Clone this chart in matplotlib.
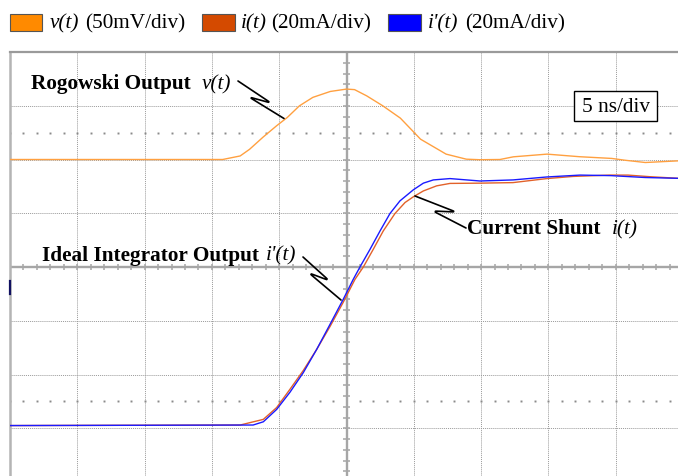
import matplotlib
matplotlib.use("Agg")
import matplotlib.pyplot as plt
from matplotlib.patches import Rectangle, PathPatch
from matplotlib.path import Path
import numpy as np

# ---------------- data ----------------
# Rogowski output v(t): time in ns, voltage in mV (50 mV/div)
time_v_ns = [-25.0, -9.2, -7.9, -7.2, -6.2, -5.2, -4.4, -3.5, -2.5, -1.2, 0.0, 0.6,
             1.5, 2.7, 4.0, 5.5, 7.4, 8.9, 9.9, 11.4, 12.4, 13.4, 14.9, 15.9, 17.3,
             19.7, 20.7, 22.2, 24.6, 25.0]
v_mV = [0.0, 0.0, 3.3, 9.5, 20.8, 31.3, 39.1, 49.9, 57.8, 63.3, 65.5, 65.0,
        59.2, 49.9, 38.5, 18.9, 5.0, 0.3, -0.2, 0.0, 2.5, 3.5, 5.0, 4.0, 2.6,
        1.0, -0.7, -2.8, -1.3, -1.3]

# Current shunt i(t): time in ns, current in mA (20 mA/div)
time_i_ns = [-25.0, -7.9, -6.18, -5.19, -4.20, -3.21, -2.22, -1.22, -0.24, 0.63, 1.25,
             1.99, 2.73, 3.60, 4.35, 4.96, 5.71, 6.70, 7.69, 9.92, 12.37, 14.88,
             16.83, 19.58, 20.91, 22.55, 24.63, 25.0]
i_mA = [0.0, 0.2, 2.3, 6.7, 13.5, 20.5, 28.3, 36.9, 45.9, 54.4, 59.0,
        65.6, 72.4, 78.9, 83.0, 85.1, 87.3, 89.2, 90.1, 90.2, 90.4, 91.9,
        92.7, 93.2, 93.2, 92.6, 92.0, 92.0]

# Ideal integrator output i'(t): time in ns, current in mA (20 mA/div)
time_ip_ns = [-25.0, -6.94, -6.18, -5.19, -4.20, -3.21, -2.22, -1.22, -0.24, 0.50, 1.00,
              1.75, 2.49, 3.23, 3.97, 4.96, 5.71, 6.45, 7.69, 9.92, 12.37, 14.88,
              17.35, 19.65, 22.18, 24.63, 25.0]
ip_mA = [0.0, 0.2, 1.4, 6.0, 12.4, 19.7, 28.3, 37.7, 47.0, 54.4, 59.0,
         65.6, 72.4, 78.9, 83.6, 87.7, 90.2, 91.4, 91.9, 91.0, 91.4, 92.5,
         93.2, 93.0, 92.3, 92.0, 92.0]

legend_names = ["v(t)", "i(t)", "i'(t)"]
legend_units = ["(50mV/div)", "(20mA/div)", "(20mA/div)"]

# ---------------- scope settings / style ----------------
NS_PER_DIV = 5.0
MV_PER_DIV = 50.0
MA_PER_DIV = 20.0
V_OFFSET_DIV = 2.0
I_OFFSET_DIV = -2.95

C_V = "#FFA040"
C_I = "#E2612A"
C_IP = "#1A1AFF"
PATCH_COLORS = ["#FF8A00", "#D44A00", "#0000FF"]
GRID_C = "#9a9a9a"
AXIS_C = "#a6a6a6"
SERIF = "Liberation Serif"
FS = 15.3

W, H = 678, 477
fig = plt.figure(figsize=(W / 100, H / 100), dpi=100)


def fx(px):
    return px / W


def fy(py):
    return 1 - py / H


# axes: graticule 10 x 8 divisions, partially clipped by the image border
left_px, top_px, right_px, bottom_px = 10, 53, 683, 483
ax = fig.add_axes([fx(left_px), fy(bottom_px), (right_px - left_px) / W,
                   (bottom_px - top_px) / H])
ax.set_xlim(-5, 5)
ax.set_ylim(-4, 4)
ax.set_xticks([])
ax.set_yticks([])
for s in ["right", "bottom"]:
    ax.spines[s].set_visible(False)
ax.spines["top"].set_color("#9a9a9a")
ax.spines["top"].set_linewidth(1.6)
ax.spines["left"].set_color("#b4b4b4")
ax.spines["left"].set_linewidth(1.8)

# dotted grid
for xg in range(-4, 5):
    if xg != 0:
        ax.axvline(xg, color=GRID_C, lw=0.7, ls=(0, (1, 1)), zorder=1)
for yg in range(-3, 4):
    if yg != 0:
        ax.axhline(yg, color=GRID_C, lw=0.7, ls=(0, (1, 1)), zorder=1)

# centre axes with minor ticks
ax.axhline(0, color=AXIS_C, lw=1.7, zorder=1.5)
ax.axvline(0, color=AXIS_C, lw=1.7, zorder=1.5)
minor = np.round(np.arange(-5, 5.001, 0.2), 3)
minor = minor[np.abs(minor) > 1e-9]
ax.vlines(minor, -0.06, 0.06, color=AXIS_C, lw=1.1, zorder=1.5)
ax.hlines(minor[np.abs(minor) < 4.01], -0.045, 0.045, color=AXIS_C, lw=1.1, zorder=1.5)
# rows of dots at +-2.5 div
for yd in (2.5, -2.5):
    ax.plot(minor, np.full(minor.shape, yd), ls="none", marker="s", ms=1.4,
            mew=0, color="#8a8a8a", zorder=1)

# small channel marker on the left edge
ax.plot([-4.995, -4.995], [-0.26, -0.5], color="#101060", lw=1.6, zorder=3,
        clip_on=False)

# traces
tv = np.array(time_v_ns) / NS_PER_DIV
ax.plot(tv, V_OFFSET_DIV + np.array(v_mV) / MV_PER_DIV, color=C_V, lw=1.0, zorder=3)
ti = np.array(time_i_ns) / NS_PER_DIV
ax.plot(ti, I_OFFSET_DIV + np.array(i_mA) / MA_PER_DIV, color=C_I, lw=1.0, zorder=3)
tip = np.array(time_ip_ns) / NS_PER_DIV
ax.plot(tip, I_OFFSET_DIV + np.array(ip_mA) / MA_PER_DIV, color=C_IP, lw=1.0, zorder=3.2)

# ---------------- legend (figure pixels) ----------------
patch_x = [9.5, 202, 388]
name_x = [50, 241, 428]
unit_x = [85.5, 271.5, 465]
for k in range(3):
    fig.add_artist(Rectangle((fx(patch_x[k]), fy(31.7)), 33 / W, 16.7 / H,
                             transform=fig.transFigure, facecolor=PATCH_COLORS[k],
                             edgecolor="#555555", lw=0.8))
    fig.text(fx(name_x[k]), fy(28.5), legend_names[k], family=SERIF, style="italic",
             fontsize=FS, va="baseline", ha="left")
    fig.text(fx(unit_x[k]), fy(28.5), legend_units[k], family=SERIF,
             fontsize=FS, va="baseline", ha="left")


# ---------------- annotations ----------------
def label(x_bold, x_it, y, bold, it):
    fig.text(fx(x_bold), fy(y), bold, family=SERIF, weight="bold", fontsize=FS,
             va="baseline", ha="left")
    fig.text(fx(x_it), fy(y), it, family=SERIF, style="italic", fontsize=FS,
             va="baseline", ha="left")


def leader(pts, r=4.0):
    """Z-shaped 'break' leader with rounded tips, points in pixels."""
    P = [np.array(p, float) for p in pts]
    verts = [P[0]]
    codes = [Path.MOVETO]
    for k in (1, 2):
        u_in = (P[k] - P[k - 1]) / np.linalg.norm(P[k] - P[k - 1])
        u_out = (P[k + 1] - P[k]) / np.linalg.norm(P[k + 1] - P[k])
        verts += [P[k] - r * u_in, P[k] + 1.0 * np.array([0, 0]) + P[k] * 0, P[k] + r * u_out]
        verts[-2] = P[k] + 0.6 * r * (u_in - u_out) / 2 * 0 + P[k] * 0
        verts[-2] = P[k]
        codes += [Path.LINETO, Path.CURVE3, Path.CURVE3]
    verts.append(P[3])
    codes.append(Path.LINETO)
    vv = np.array([[fx(v[0]), fy(v[1])] for v in verts])
    fig.add_artist(PathPatch(Path(vv, codes), transform=fig.transFigure,
                             facecolor="none", edgecolor="black", lw=1.2,
                             capstyle="round", joinstyle="round", zorder=5))


label(31, 202, 89, "Rogowski Output", "v(t)")
leader([(238, 82), (271, 104), (249, 98), (284, 119.5)])

label(42, 266, 260.5, "Ideal Integrator Output", "i'(t)")
leader([(303, 258), (329, 281.5), (309, 274), (341, 301)])

label(467, 612, 234.5, "Current Shunt", "i(t)")
leader([(415, 197), (456, 213), (433, 212), (466, 229)])

# time base box
fig.add_artist(Rectangle((fx(574), fy(122.3)), 83 / W, 30.5 / H,
                         transform=fig.transFigure, facecolor="white",
                         edgecolor="black", lw=1.0, zorder=4))
fig.text(fx(615.5), fy(112.5), "5 ns/div", family=SERIF, fontsize=FS,
         va="baseline", ha="center", zorder=5)

fig.savefig("out.png", dpi=100)
